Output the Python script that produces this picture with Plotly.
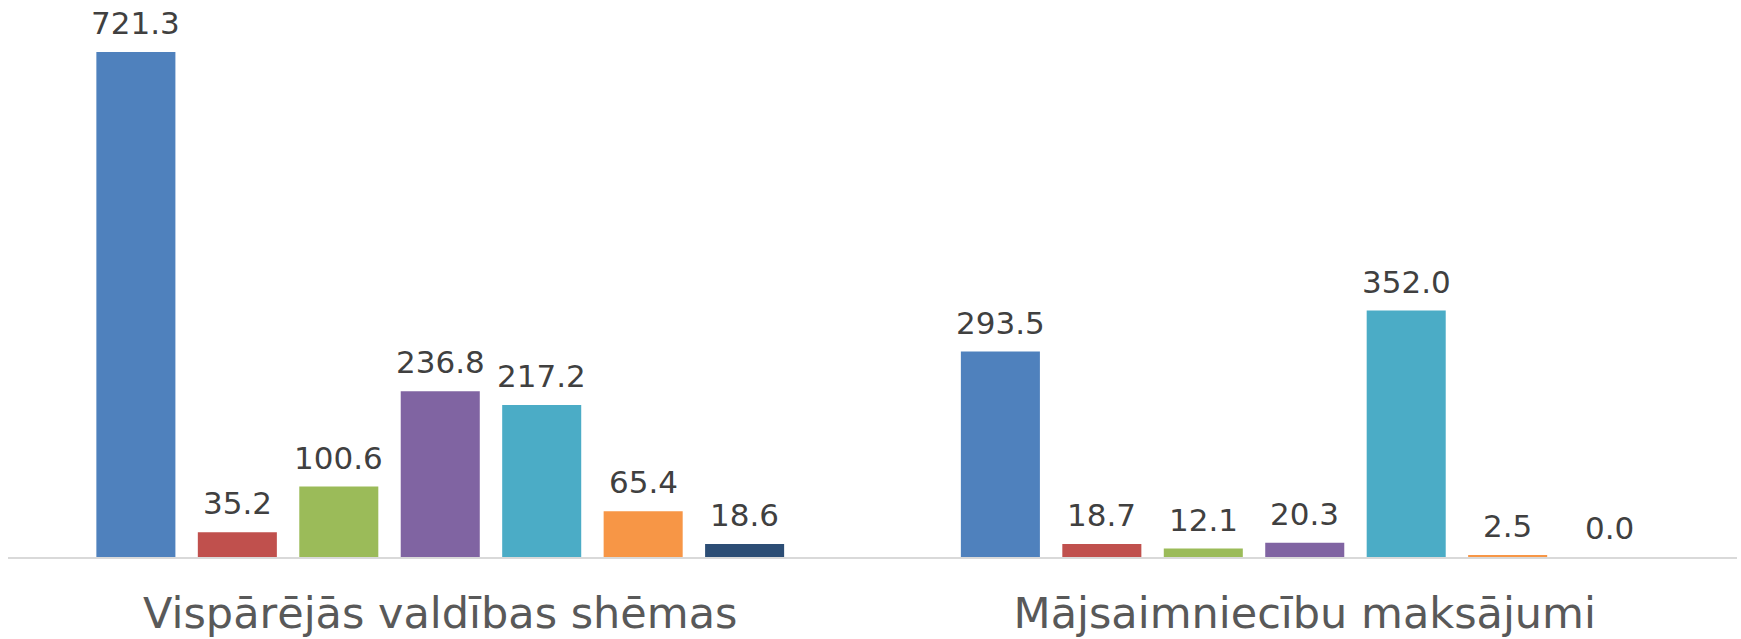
import plotly.graph_objects as go

categories = ["Vispārējās valdības shēmas", "Mājsaimniecību maksājumi"]
series_names = ["Ārstnieciskā aprūpe", "Rehabilitācija", "Ilgstošā aprūpe",
                "Palīgpakalpojumi", "Medicīnas preces", "Profilakse", "Pārvaldība"]
values = [
    [721.3, 293.5],
    [35.2, 18.7],
    [100.6, 12.1],
    [236.8, 20.3],
    [217.2, 352.0],
    [65.4, 2.5],
    [18.6, 0.0],
]
colors = ["#4F81BD", "#C0504D", "#9BBB59", "#8064A2", "#4BACC6", "#F79646", "#2C4D75"]

n = len(series_names)
group_frac = 0.8215          # share of a category taken by the group of bars
slot = group_frac / n        # width reserved for each bar
bar_w = slot * 0.779         # drawn bar width

fig = go.Figure()
annotations = []
for i, (name, vals, col) in enumerate(zip(series_names, values, colors)):
    xs = [c + (i - (n - 1) / 2) * slot for c in range(len(categories))]
    fig.add_trace(go.Bar(
        x=xs, y=vals, width=bar_w, name=name, marker_color=col,
        marker_line_width=0,
    ))
    for x, v in zip(xs, vals):
        annotations.append(dict(
            x=x, y=v, xref="x", yref="y", text=f"{v:.1f}", showarrow=False,
            yanchor="bottom", yshift=9,
            font=dict(family="DejaVu Sans", size=31, color="#404040"),
        ))

fig.update_layout(
    width=1741, height=639,
    margin=dict(l=8, r=4, t=11, b=82),
    paper_bgcolor="white", plot_bgcolor="white",
    barmode="overlay",
    showlegend=False,
    font=dict(family="DejaVu Sans"),
    annotations=annotations,
)
fig.update_xaxes(
    range=[-0.5, len(categories) - 0.5],
    tickvals=list(range(len(categories))), ticktext=categories,
    showline=True, linecolor="#D9D9D9", linewidth=2,
    showgrid=False, zeroline=False,
    ticks="outside", ticklen=17, tickcolor="rgba(0,0,0,0)",
    tickfont=dict(family="DejaVu Sans", size=43, color="#595959"),
    automargin=False,
)
fig.update_yaxes(range=[0, 780], visible=False, showgrid=False, zeroline=False)

fig.write_html("out.html", config={"displayModeBar": False},
               post_script="document.body.style.margin='0';")
